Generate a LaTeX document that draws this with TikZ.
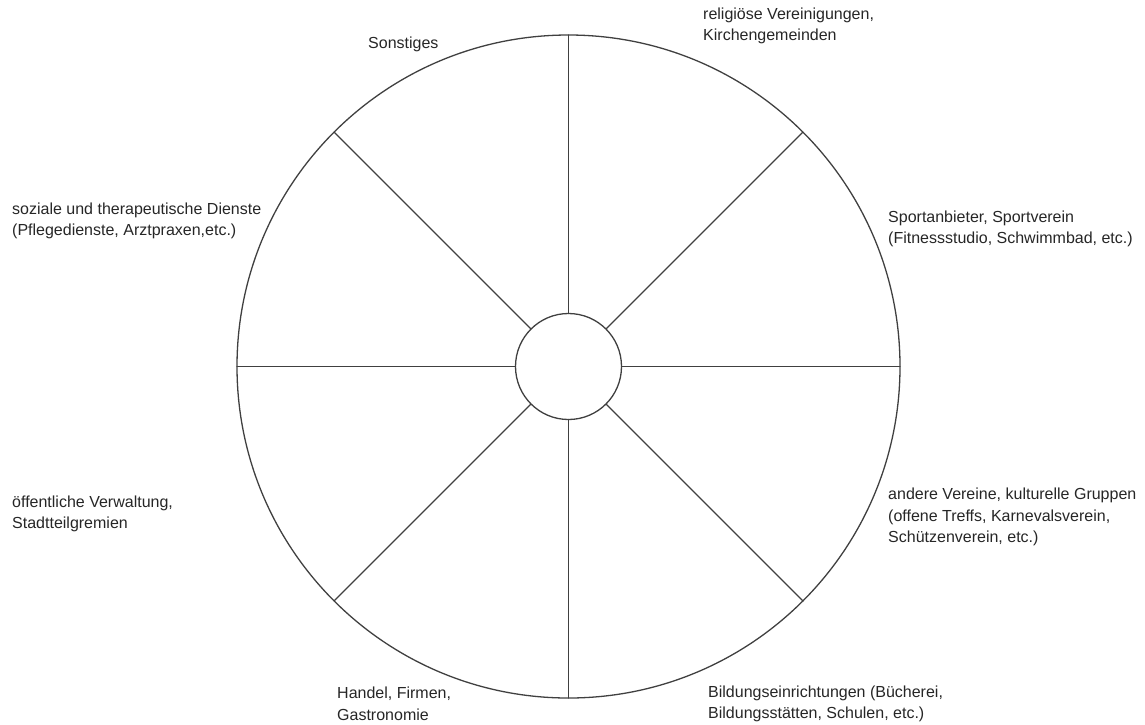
\documentclass[tikz,border=0pt]{standalone}
\usepackage{fontspec}
\setmainfont{Liberation Sans}

\begin{document}
\begin{tikzpicture}[x=1pt,y=-1pt,line cap=round,line join=round,
  every node/.style={font=\fontsize{16}{21.5}\selectfont,text=black!85,
    inner sep=0pt,align=left,anchor=west},
  rim/.style={line width=1.3pt,black!75}]
  \useasboundingbox (0,0) rectangle (1145,724);
  \coordinate (M) at (568.5,366.5);
  % wheel
  \draw[rim] (M) circle (331.5pt);
  \draw[rim] (M) circle (53pt);
  \foreach \a in {0,45,...,315}
    \draw[rim] (M) ++(\a:53) -- ++(\a:278.5);
  % sectors
  \node (sonst) at (368,44) {Sonstiges};
  \node (relig) at (703,26) {religiöse Vereinigungen,\\Kirchengemeinden};
  \node (sozial) at (12,221) {soziale und therapeutische Dienste\\(Pflegedienste, Arztpraxen,etc.)};
  \node (sport) at (888,229) {Sportanbieter, Sportverein\\(Fitnessstudio, Schwimmbad, etc.)};
  \node (verein) at (888,517) {andere Vereine, kulturelle Gruppen\\(offene Treffs, Karnevalsverein,\\Schützenverein, etc.)};
  \node (verw) at (12,514) {öffentliche Verwaltung,\\Stadtteilgremien};
  \node (handel) at (337,704) {Handel, Firmen,\\Gastronomie};
  \node (bildung) at (708,704) {Bildungseinrichtungen (Bücherei,\\Bildungsstätten, Schulen, etc.)};
\end{tikzpicture}
\end{document}
